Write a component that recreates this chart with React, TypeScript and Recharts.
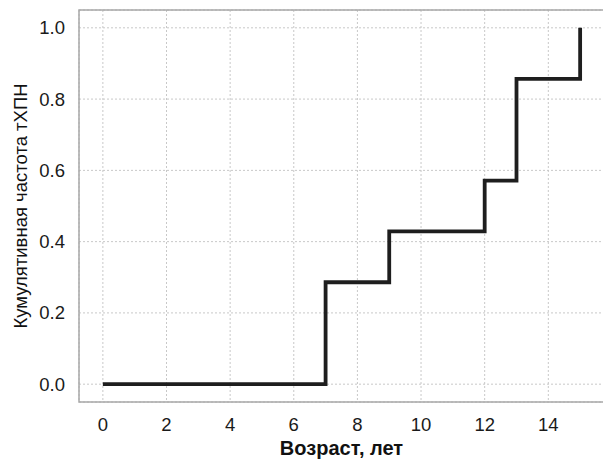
import React from 'react';
import { LineChart, Line, XAxis, YAxis, CartesianGrid, ReferenceArea } from 'recharts';

const ages = [0, 7, 9, 12, 13, 15];
const cumFreq = [0, 0.286, 0.429, 0.571, 0.857, 1.0];
const xTicks = [0, 2, 4, 6, 8, 10, 12, 14];
const yTicks = [0, 0.2, 0.4, 0.6, 0.8, 1.0];

const data = ages.map((a, i) => ({ age: a, freq: cumFreq[i] }));

const FONT = '"Liberation Sans", Arial, sans-serif';

export default function App() {
  return (
    <div style={{ position: 'absolute', left: 0, top: 0, background: '#fff' }}>
      <LineChart
        width={604}
        height={459}
        data={data}
        margin={{ top: 10, right: 0, bottom: 0, left: 0 }}
        style={{ fontFamily: FONT }}
      >
        <CartesianGrid stroke="#c8c8c8" strokeDasharray="2 2" strokeWidth={1} />
        <ReferenceArea
          x1={-0.75}
          x2={15.75}
          y1={-0.05}
          y2={1.05}
          fill="none"
          stroke="#a8a8a8"
          strokeWidth={1.5}
          ifOverflow="visible"
        />
        <XAxis
          dataKey="age"
          type="number"
          domain={[-0.75, 15.75]}
          ticks={xTicks}
          allowDataOverflow
          height={57}
          axisLine={false}
          tickLine={false}
          tickSize={0}
          tickMargin={16}
          tick={{ fill: '#1a1a1a', fontSize: 18.5, fontFamily: FONT }}
          label={{
            value: 'Возраст, лет',
            position: 'insideBottom',
            offset: 4,
            style: { fill: '#111', fontSize: 20, fontWeight: 'bold', fontFamily: FONT },
          }}
        />
        <YAxis
          type="number"
          domain={[-0.05, 1.05]}
          ticks={yTicks}
          allowDataOverflow
          width={79}
          axisLine={false}
          tickLine={false}
          tickSize={0}
          tickMargin={14}
          tickFormatter={(v: number) => v.toFixed(1)}
          tick={{ fill: '#1a1a1a', fontSize: 18.5, fontFamily: FONT }}
          label={{
            value: 'Кумулятивная частота тХПН',
            angle: -90,
            position: 'insideLeft',
            offset: 20,
            style: { fill: '#111', fontSize: 18.5, textAnchor: 'middle', fontFamily: FONT },
          }}
        />
        <Line
          type="stepAfter"
          dataKey="freq"
          stroke="#1e1e1e"
          strokeWidth={3.8}
          dot={false}
          isAnimationActive={false}
        />
      </LineChart>
    </div>
  );
}
